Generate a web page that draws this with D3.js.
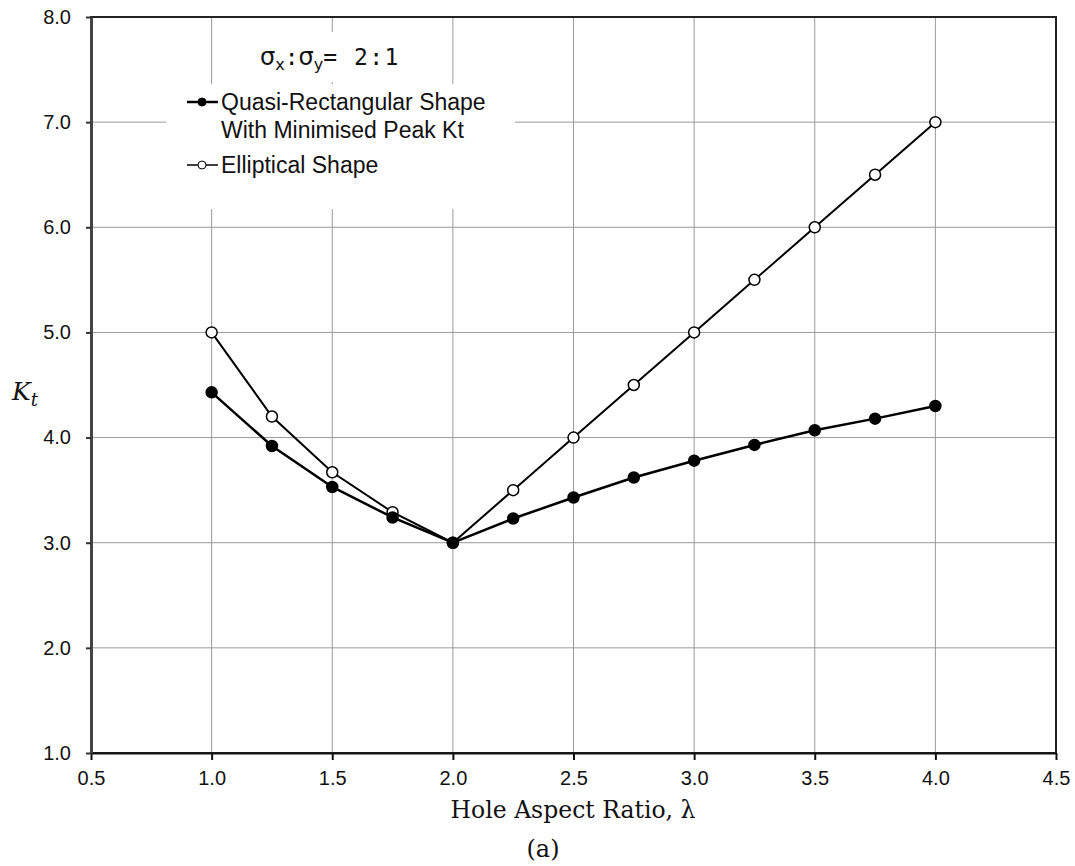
<!DOCTYPE html>
<html>
<head>
<meta charset="utf-8">
<script src="https://cdn.jsdelivr.net/npm/d3@7"></script>
<style>
  body { margin: 0; background: #fff; }
  text { font-family: "Liberation Sans", Arial, sans-serif; }
</style>
</head>
<body>
<div id="chart"></div>
<script>
// data
var lambda = [1.0, 1.25, 1.5, 1.75, 2.0, 2.25, 2.5, 2.75, 3.0, 3.25, 3.5, 3.75, 4.0];
var ktQuasi = [4.43, 3.92, 3.53, 3.24, 3.0, 3.23, 3.43, 3.62, 3.78, 3.93, 4.07, 4.18, 4.30];
var ktEllipse = [5.0, 4.2, 3.67, 3.29, 3.0, 3.5, 4.0, 4.5, 5.0, 5.5, 6.0, 6.5, 7.0];
var xTicks = [0.5, 1.0, 1.5, 2.0, 2.5, 3.0, 3.5, 4.0, 4.5];
var yTicks = [1, 2, 3, 4, 5, 6, 7, 8];

var W = 1075, H = 866;
var margin = {top: 17, right: 19, bottom: 113, left: 91},
    width = W - margin.left - margin.right,
    height = H - margin.top - margin.bottom;

var svg = d3.select("#chart")
  .append("svg")
    .attr("width", W)
    .attr("height", H);

var g = svg.append("g")
    .attr("transform", "translate(" + margin.left + "," + margin.top + ")");

var x = d3.scaleLinear().domain([0.5, 4.5]).range([0, width]);
var y = d3.scaleLinear().domain([1, 8]).range([height, 0]);

// gridlines
g.append("g").selectAll("line.vg")
  .data(xTicks.slice(1, -1))
  .enter().append("line")
    .attr("x1", d => x(d)).attr("x2", d => x(d))
    .attr("y1", 0).attr("y2", height)
    .style("stroke", "#9a9a9a").style("stroke-width", 1);
g.append("g").selectAll("line.hg")
  .data(yTicks.slice(1, -1))
  .enter().append("line")
    .attr("x1", 0).attr("x2", width)
    .attr("y1", d => y(d)).attr("y2", d => y(d))
    .style("stroke", "#9a9a9a").style("stroke-width", 1);

// frame
g.append("rect")
  .attr("width", width).attr("height", height)
  .style("fill", "none").style("stroke", "#222").style("stroke-width", 2);

// axes
var xAxis = g.append("g")
  .attr("font-size", 20)
  .attr("transform", "translate(0," + height + ")")
  .call(d3.axisBottom(x).tickValues(xTicks).tickFormat(d3.format(".1f")).tickSizeInner(7).tickSizeOuter(0).tickPadding(11));
var yAxis = g.append("g")
  .call(d3.axisLeft(y).tickValues(yTicks).tickFormat(d3.format(".1f")).tickSizeInner(5).tickSizeOuter(0).tickPadding(15));

xAxis.select(".domain").style("stroke", "#111").style("stroke-width", 2);
yAxis.select(".domain").style("stroke", "#444").style("stroke-width", 3);
xAxis.selectAll(".tick line").style("stroke", "#111").style("stroke-width", 2);
yAxis.selectAll(".tick line").style("stroke", "#333").style("stroke-width", 2);
[xAxis, yAxis].forEach(function(ax) {
  ax.attr("font-family", "'Liberation Sans', Arial, sans-serif").attr("font-size", 20);
  ax.selectAll(".tick text").attr("fill", "#111");
});

// legend boxes (white, hide gridlines)
g.append("rect")
  .attr("x", 166 - margin.left).attr("y", 84 - margin.top)
  .attr("width", 349).attr("height", 125)
  .style("fill", "#fff");
g.append("rect")
  .attr("x", 240 - margin.left).attr("y", 32 - margin.top)
  .attr("width", 180).attr("height", 50)
  .style("fill", "#fff");

// series
var line = d3.line()
  .x(d => x(d[0]))
  .y(d => y(d[1]));

var series = [
  {name: "ellipse", vals: ktEllipse, fill: "#fff", width: 2},
  {name: "quasi", vals: ktQuasi, fill: "#000", width: 2.5}
];

series.forEach(function(s) {
  var pts = lambda.map((l, i) => [l, s.vals[i]]);
  g.append("path")
    .datum(pts)
    .attr("d", line)
    .style("fill", "none")
    .style("stroke", "#000")
    .style("stroke-width", s.width);
});
series.forEach(function(s) {
  var pts = lambda.map((l, i) => [l, s.vals[i]]);
  g.selectAll("circle." + s.name)
    .data(pts)
    .enter().append("circle")
      .attr("class", s.name)
      .attr("cx", d => x(d[0]))
      .attr("cy", d => y(d[1]))
      .attr("r", 5.5)
      .style("fill", s.fill)
      .style("stroke", "#000")
      .style("stroke-width", 1.5);
});

// sigma ratio label
var sig = svg.append("text")
  .attr("x", 260).attr("y", 65)
  .style("font-size", "23px").style("fill", "#111");
var sans = "'DejaVu Sans', sans-serif", mono = "'DejaVu Sans Mono', monospace";
sig.append("tspan").style("font-family", sans).style("font-size", "24px").text("σ");
sig.append("tspan").attr("dy", 5).style("font-family", sans).style("font-size", "16px").text("x");
sig.append("tspan").attr("dy", -5).style("font-family", mono).text(":");
sig.append("tspan").style("font-family", sans).style("font-size", "24px").text("σ");
sig.append("tspan").attr("dy", 5).style("font-family", sans).style("font-size", "16px").text("y");
sig.append("tspan").attr("dy", -5).style("font-family", mono).style("letter-spacing", "1.5px").text("= 2:1");

var legendItems = [
  {lines: ["Quasi-Rectangular Shape", "With Minimised Peak Kt"], fill: "#000", y: 102, sw: 2.5},
  {lines: ["Elliptical Shape"], fill: "#fff", y: 165, sw: 1.5}
];
legendItems.forEach(function(it) {
  svg.append("line")
    .attr("x1", 187).attr("x2", 218)
    .attr("y1", it.y).attr("y2", it.y)
    .style("stroke", "#000").style("stroke-width", it.sw);
  svg.append("circle")
    .attr("cx", 202).attr("cy", it.y).attr("r", 4)
    .style("fill", it.fill).style("stroke", "#000").style("stroke-width", 1);
  var t = svg.append("text")
    .attr("x", 221).attr("y", it.y + 8)
    .style("font-size", "23px").style("fill", "#111");
  it.lines.forEach(function(l, i) {
    t.append("tspan").attr("x", 221).attr("dy", i === 0 ? 0 : 28).text(l);
  });
});

// axis titles
svg.append("text")
  .attr("x", 573).attr("y", 818)
  .attr("text-anchor", "middle")
  .style("font-family", "'DejaVu Serif', 'Liberation Serif', serif")
  .style("font-size", "23.5px").style("fill", "#111")
  .text("Hole Aspect Ratio, λ");

svg.append("text")
  .attr("x", 543).attr("y", 857)
  .attr("text-anchor", "middle")
  .style("font-family", "'DejaVu Serif', 'Liberation Serif', serif")
  .style("font-size", "24px").style("fill", "#111")
  .text("(a)");

var kt = svg.append("text")
  .attr("x", 12).attr("y", 400)
  .style("font-family", "'DejaVu Serif', 'Liberation Serif', serif")
  .style("font-style", "italic")
  .style("font-size", "25px").style("fill", "#111");
kt.append("tspan").text("K");
kt.append("tspan").attr("dy", 6).style("font-size", "18px").text("t");
</script>
</body>
</html>
